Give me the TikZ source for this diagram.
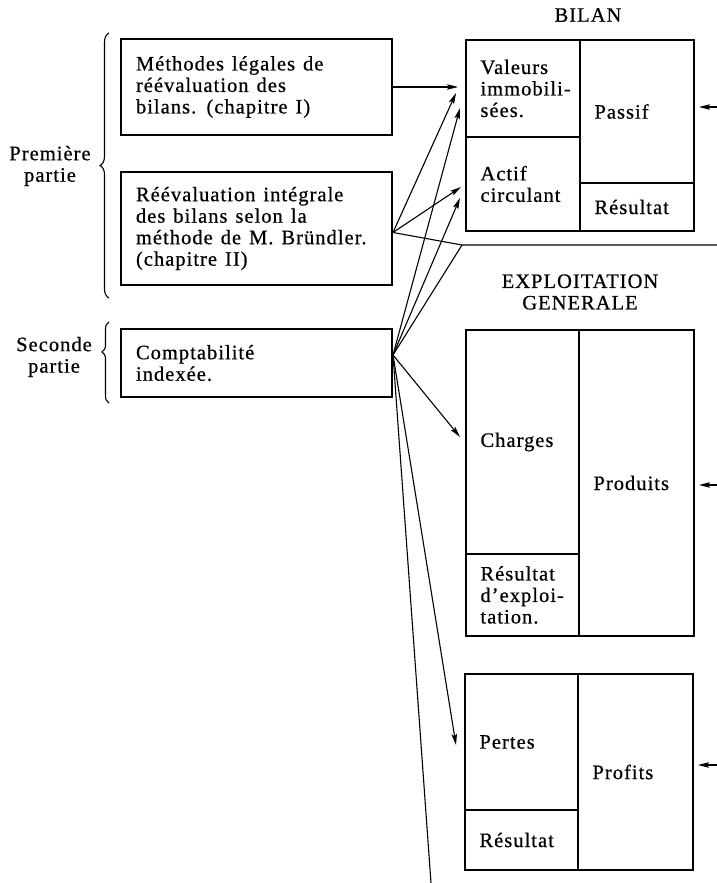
\documentclass[tikz,border=0pt]{standalone}
\usepackage{fontspec}
\setmainfont{Liberation Serif}[LetterSpace=5,FakeBold=0.6]
\usetikzlibrary{arrows.meta,decorations.pathreplacing,calc}
\newcommand\mywordspace{\spaceskip=8pt plus 2pt minus 1pt\relax}
\begin{document}
\begin{tikzpicture}[x=1pt,y=-1pt,
  txt/.style={font=\fontsize{20.5}{21.5}\selectfont, execute at begin node=\mywordspace},
  lbox/.style={txt,draw,line width=2pt,rectangle,minimum width=271pt,text width=241pt,inner xsep=15pt,align=left},
  cell/.style={txt,draw,line width=2pt,rectangle,anchor=north west,inner xsep=14.5pt,inner ysep=0pt,align=left},
  conn/.style={line width=1.1pt},
  arr/.style={conn,-{Stealth[length=11pt,width=5.5pt,inset=2pt]}},
  brc/.style={decorate,line width=1.1pt}
]
\useasboundingbox (0,0) rectangle (717,883);

% left boxes
\node[lbox,minimum height=96pt] (b1) at (256.5,87) {Méthodes légales de\\réévaluation des\\bilans. (chapitre I)};
\node[lbox,minimum height=113pt] (b2) at (256.5,228.5) {Réévaluation intégrale\\des bilans selon la\\méthode de M. Bründler.\\(chapitre II)};
\node[lbox,minimum height=68pt] (b3) at (256.5,363) {Comptabilité\\indexée.};

% part labels and braces
\node[txt,align=center] (p1) at (50,166) {Première\\partie};
\node[txt,align=center] (p2) at (54,357) {Seconde\\partie};
\draw[brc,decoration={brace,amplitude=9pt}] (109,298) -- (109,33);
\draw[brc,decoration={brace,amplitude=7pt,aspect=0.63}] (109,403) -- (109,322);

% titles
\node[txt] (tbilan) at (588,15) {BILAN};
\node[txt,align=center] (texpl) at (580,292) {EXPLOITATION\\GENERALE};

% BILAN
\node[cell,minimum width=114pt,minimum height=97pt,text width=85pt] (val) at (465,39) {Valeurs\\\mbox{immobili-}\\sées.};
\node[cell,minimum width=114pt,minimum height=94pt,text width=85pt] (act) at (465,136) {Actif\\circulant};
\node[cell,minimum width=114pt,minimum height=143pt,text width=85pt] (pas) at (579,39) {Passif};
\node[cell,minimum width=114pt,minimum height=48pt,text width=85pt] (res1) at (579,182) {Résultat};

% EXPLOITATION GENERALE
\node[cell,minimum width=113pt,minimum height=224pt,text width=84pt] (cha) at (465,329) {Charges};
\node[cell,minimum width=113pt,minimum height=82pt,text width=84pt] (res2) at (465,553) {Résultat\\\mbox{d’exploi-}\\tation.};
\node[cell,minimum width=115pt,minimum height=306pt,text width=86pt] (pro) at (578,329) {Produits};

% PERTES ET PROFITS
\node[cell,minimum width=113pt,minimum height=136pt,text width=84pt] (per) at (464,673) {Pertes};
\node[cell,minimum width=113pt,minimum height=60pt,text width=84pt] (res3) at (464,809) {Résultat};
\node[cell,minimum width=115pt,minimum height=196pt,text width=86pt] (prf) at (577,673) {Profits};

% coordinates
\coordinate (o2) at ($(b2.east)+(0,4)$);
\coordinate (o3) at ($(b3.east)+(0,-8)$);
\coordinate (h0) at (458,0);
\coordinate (v1) at (456,93);
\coordinate (v2) at (460,108);
\coordinate (a1) at (461,187);
\coordinate (a2) at (460,198);
\coordinate (J) at (462,245);
\coordinate (Jr) at (717,245);
\coordinate (ch) at (460,437);
\coordinate (pe) at (456,745);
\coordinate (bot) at (431,883);
\coordinate (pin1) at (717,107);
\coordinate (pin2) at (717,485);
\coordinate (pin3) at (717,765);

% connectors
\draw[arr] (b1.east) -- (b1.east -| h0);
\draw[arr] (o2) -- (v1);
\draw[arr] (o2) -- (a1);
\draw[conn] (o2) -- (J) -- (Jr);
\draw[arr] (o3) -- (v2);
\draw[arr] (o3) -- (a2);
\draw[conn] (o3) -- (J);
\draw[arr] (o3) -- (ch);
\draw[arr] (o3) -- (pe);
\draw[conn] (o3) -- (bot);
\draw[arr,shorten >=4pt] (pin1) -- (pin1 -| pas.east);
\draw[arr,shorten >=4pt] (pin2) -- (pin2 -| pro.east);
\draw[arr,shorten >=4pt] (pin3) -- (pin3 -| prf.east);
\end{tikzpicture}
\end{document}
